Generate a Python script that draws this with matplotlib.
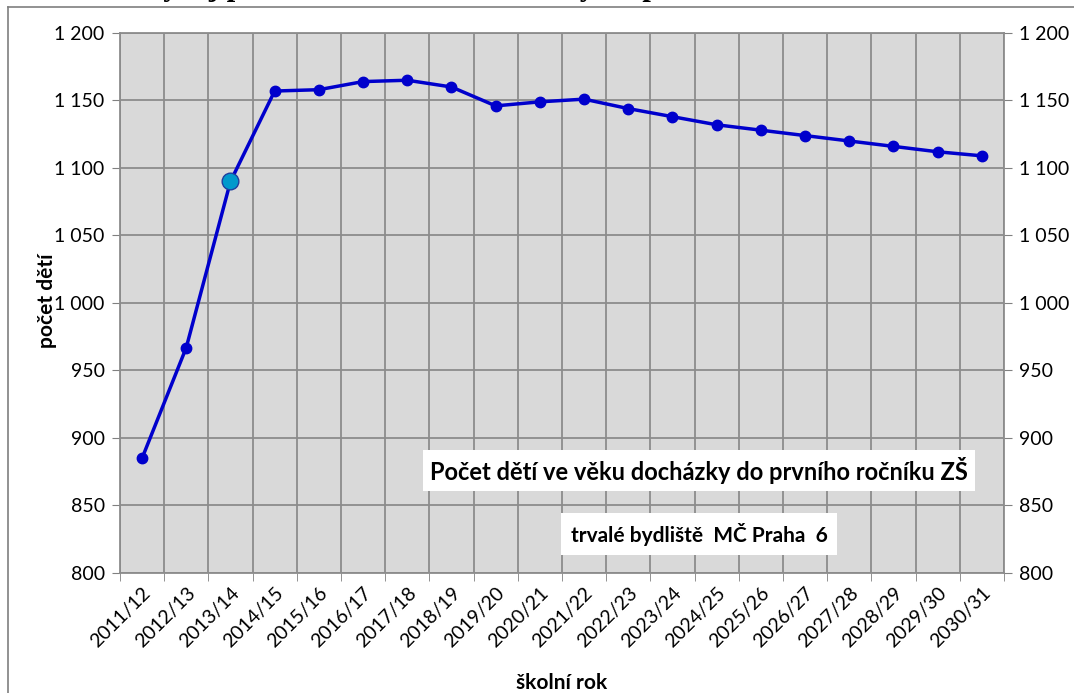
import matplotlib
matplotlib.use("Agg")
import matplotlib.pyplot as plt
from matplotlib.lines import Line2D
import numpy as np

years = ["2011/12", "2012/13", "2013/14", "2014/15", "2015/16", "2016/17", "2017/18",
         "2018/19", "2019/20", "2020/21", "2021/22", "2022/23", "2023/24", "2024/25",
         "2025/26", "2026/27", "2027/28", "2028/29", "2029/30", "2030/31"]
children = [885, 967, 1090, 1157, 1158, 1164, 1165, 1160, 1146, 1149, 1151,
            1144, 1138, 1132, 1128, 1124, 1120, 1116, 1112, 1109]
highlight = 2  # 2013/14
y_ticks = [800, 850, 900, 950, 1000, 1050, 1100, 1150, 1200]

sans = ["Lato", "DejaVu Sans"]

fig = plt.figure(figsize=(10.74, 6.93), dpi=100)
ax = fig.add_axes([0.1117, 0.1732, 0.8231, 0.7792])

x = np.arange(len(years))
ax.set_facecolor("#D9D9D9")
ax.plot(x, children, color="#0000CC", lw=2.5, marker="o", ms=7.5, zorder=3)
ax.plot(x[highlight], children[highlight], marker="o", ms=12, color="#0099CC",
        mec="#1F3F9F", mew=1.0, zorder=4)

ax.set_xlim(-0.5, len(years) - 0.5)
ax.set_ylim(800, 1200)

def fmt(v):
    return f"{v:,}".replace(",", " ")

ax.set_yticks(y_ticks)
ax.set_yticklabels([fmt(v) for v in y_ticks], family=sans, fontsize=14)
ax.tick_params(axis="y", which="both", left=True, right=True, labelleft=True,
               labelright=True, direction="out", length=6, color="#808080", pad=5)

# category ticks / vertical grid between categories
ax.set_xticks(x)
ax.set_xticklabels(years, rotation=45, ha="right", va="top", rotation_mode="anchor",
                   family=sans, fontsize=14)
ax.tick_params(axis="x", length=0, pad=8)
ax.set_xticks(np.arange(-0.5, len(years) + 0.5, 1), minor=True)
ax.tick_params(axis="x", which="minor", length=6, color="#808080", direction="out")
ax.grid(True, which="minor", axis="x", color="#8C8C8C", lw=1.3)
ax.grid(True, which="major", axis="y", color="#8C8C8C", lw=1.3)
ax.set_axisbelow(True)

for s in ax.spines.values():
    s.set_color("#8C8C8C")
    s.set_linewidth(1.3)

ax.set_ylabel("počet dětí", family=sans, fontweight="bold", fontsize=15)
ax.yaxis.set_label_coords(-0.071, 0.505)
ax.set_xlabel("školní rok", family=sans, fontweight="bold", fontsize=15)
ax.xaxis.set_label_coords(0.5, -0.185)

ax.text(0.655, 0.189, "Počet dětí ve věku docházky do prvního ročníku ZŠ",
        transform=ax.transAxes, ha="center", va="center", family=sans,
        fontweight="bold", fontsize=17,
        bbox=dict(boxstyle="square,pad=0.3", fc="white", ec="none"))
ax.text(0.655, 0.072, "trvalé bydliště  MČ Praha  6",
        transform=ax.transAxes, ha="center", va="center", family=sans,
        fontweight="bold", fontsize=15,
        bbox=dict(boxstyle="square,pad=0.45", fc="white", ec="none"))

# outer frame of the embedded chart
fig.add_artist(Line2D([0.0075, 0.0075], [0, 0.99], transform=fig.transFigure,
                      color="#7F7F7F", lw=1.2))
fig.add_artist(Line2D([0.0075, 1], [0.99, 0.99], transform=fig.transFigure,
                      color="#7F7F7F", lw=1.2))

# document heading above the chart, cut off by the crop
fig.text(0.035, 1.007, "Graf 1: Vývoj počtu dětí ve věku docházky do prvního ročníku ZŠ v MČ Praha 6",
         ha="left", va="baseline", family=["Liberation Serif"], fontweight="bold",
         fontsize=22)

fig.savefig("out.png", dpi=100)
